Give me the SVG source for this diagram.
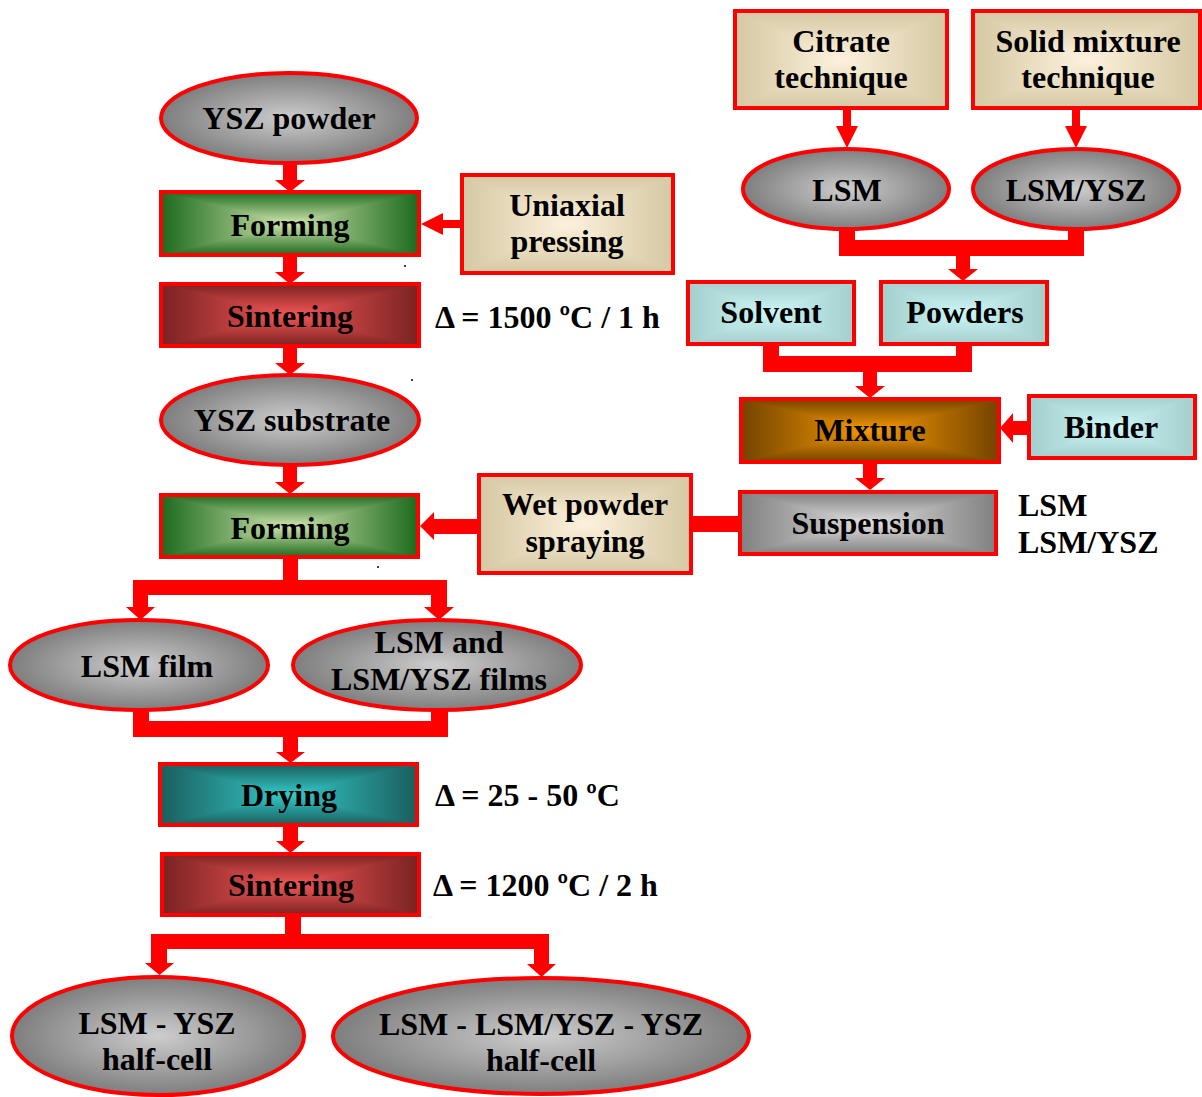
<svg xmlns="http://www.w3.org/2000/svg" xmlns:xlink="http://www.w3.org/1999/xlink" width="1202" height="1097" viewBox="0 0 1202 1097">
<style>
.t{font-family:"Liberation Serif","Times New Roman",serif;font-weight:bold;font-size:32px;fill:#000;text-anchor:middle}
.l{font-family:"Liberation Serif","Times New Roman",serif;font-weight:bold;font-size:32px;fill:#000}
.box{fill:none;stroke:#ff0000;stroke-width:4}
.ell{fill:url(#gray-r);stroke:#ff0000;stroke-width:4}
.con{fill:#ff0000}
</style>
<defs>
<polygon id="tb" points="0,0 1,0 .5,.5 1,1 0,1 .5,.5"/>
<rect id="sq" width="1" height="1"/>
<radialGradient id="gray-r" cx=".5" cy=".5" r=".5"><stop offset="0" stop-color="#cdcdcd"/><stop offset="1" stop-color="#7e7e7e"/></radialGradient>
<linearGradient id="h-green"><stop offset="0" stop-color="#1d6a1d"/><stop offset=".5" stop-color="#cfe4ae"/><stop offset="1" stop-color="#1d6a1d"/></linearGradient>
<linearGradient id="v-green" xlink:href="#h-green" x2="0" y2="1"/>
<linearGradient id="h-red"><stop offset="0" stop-color="#7a2222"/><stop offset=".5" stop-color="#f35656"/><stop offset="1" stop-color="#7a2222"/></linearGradient>
<linearGradient id="v-red" xlink:href="#h-red" x2="0" y2="1"/>
<linearGradient id="h-tan"><stop offset="0" stop-color="#d5c8a3"/><stop offset=".5" stop-color="#fdf1dd"/><stop offset="1" stop-color="#d5c8a3"/></linearGradient>
<linearGradient id="v-tan" xlink:href="#h-tan" x2="0" y2="1"/>
<linearGradient id="h-cyan"><stop offset="0" stop-color="#a2cecc"/><stop offset=".5" stop-color="#cdf7f7"/><stop offset="1" stop-color="#a2cecc"/></linearGradient>
<linearGradient id="v-cyan" xlink:href="#h-cyan" x2="0" y2="1"/>
<linearGradient id="h-orange"><stop offset="0" stop-color="#734300"/><stop offset=".5" stop-color="#f89a00"/><stop offset="1" stop-color="#734300"/></linearGradient>
<linearGradient id="v-orange" xlink:href="#h-orange" x2="0" y2="1"/>
<linearGradient id="h-gray"><stop offset="0" stop-color="#808080"/><stop offset=".5" stop-color="#dedede"/><stop offset="1" stop-color="#808080"/></linearGradient>
<linearGradient id="v-gray" xlink:href="#h-gray" x2="0" y2="1"/>
<linearGradient id="h-teal"><stop offset="0" stop-color="#1a5e5c"/><stop offset=".5" stop-color="#34caca"/><stop offset="1" stop-color="#1a5e5c"/></linearGradient>
<linearGradient id="v-teal" xlink:href="#h-teal" x2="0" y2="1"/>
</defs>

<g id="connectors">
<path class="con" d="M283,160 H297 V180 H305 L290,192 L275,180 H283 Z"/>
<path class="con" d="M283,254 H297 V272 H305 L290,284 L275,272 H283 Z"/>
<path class="con" d="M283,345 H297 V363 H305 L290,375 L275,363 H283 Z"/>
<path class="con" d="M283,462 H297 V482 H305 L290,494 L275,482 H283 Z"/>
<path class="con" d="M462,220 V228 H443 V235 L421,224 L443,213 V220 Z"/>
<path class="con" d="M843,108 H851 V126 H858 L847,148 L836,126 H843 Z"/>
<path class="con" d="M1072,108 H1080 V126 H1087 L1076,148 L1065,126 H1072 Z"/>
<path class="con" d="M839,226 H855 V240 H1068 V226 H1084 V256 H970 V269 H978 L963,281 L948,269 H956 V256 H839 Z"/>
<path class="con" d="M763,343 H779 V356 H956 V343 H972 V372 H877 V386 H885 L870,398 L855,386 H863 V372 H763 Z"/>
<path class="con" d="M1029,421 V435 H1013 V443 L1000,428 L1013,413 V421 Z"/>
<path class="con" d="M863,461 H877 V478 H885 L870,490 L855,478 H863 Z"/>
<rect class="con" x="690" y="516" width="50" height="16"/>
<path class="con" d="M480,519 V534 H434 V540 L420,526 L434,512 V519 Z"/>
<path class="con" d="M283,556 H298 V580 H447 V607 H454 L439,620 L424,607 H431 V595 H148 V607 H155 L140.5,620 L126,607 H133 V580 H283 Z"/>
<path class="con" d="M133,706 H149 V721 H431 V706 H448 V737 H298 V752 H305 L290.5,763 L276,752 H283 V737 H133 Z"/>
<path class="con" d="M283,825 H298 V841 H305 L290.5,853 L276,841 H283 Z"/>
<path class="con" d="M285,915 H301 V934 H549 V964 H556 L541.5,977 L527,964 H534 V949 H167 V963 H174 L159.5,975 L145,963 H151 V934 H285 Z"/>
</g>

<g id="ysz-powder"><ellipse class="ell" cx="289" cy="118" rx="128" ry="45"/><text class="t" x="289" y="129">YSZ powder</text></g>

<g id="forming1"><g transform="translate(161,192) scale(258,63)"><use xlink:href="#sq" fill="url(#h-green)"/><use xlink:href="#tb" fill="url(#v-green)"/></g><rect class="box" x="161" y="192" width="258" height="63"/><text class="t" x="290" y="236">Forming</text></g>

<g id="uniaxial"><g transform="translate(462,175) scale(211,98)"><use xlink:href="#sq" fill="url(#h-tan)"/><use xlink:href="#tb" fill="url(#v-tan)"/></g><rect class="box" x="462" y="175" width="211" height="98"/><text class="t" x="567" y="216">Uniaxial</text><text class="t" x="567" y="252">pressing</text></g>

<g id="sintering1"><g transform="translate(161,284) scale(258,62)"><use xlink:href="#sq" fill="url(#h-red)"/><use xlink:href="#tb" fill="url(#v-red)"/></g><rect class="box" x="161" y="284" width="258" height="62"/><text class="t" x="290" y="327">Sintering</text></g>

<g id="cond1"><text class="l" x="435" y="328">Δ = 1500 ºC / 1 h</text></g>

<g id="ysz-substrate"><ellipse class="ell" cx="290" cy="420" rx="129" ry="45"/><text class="t" x="292" y="431">YSZ substrate</text></g>

<g id="forming2"><g transform="translate(161,495) scale(257,62)"><use xlink:href="#sq" fill="url(#h-green)"/><use xlink:href="#tb" fill="url(#v-green)"/></g><rect class="box" x="161" y="495" width="257" height="62"/><text class="t" x="290" y="539">Forming</text></g>

<g id="wet-powder"><g transform="translate(479,475) scale(212,98)"><use xlink:href="#sq" fill="url(#h-tan)"/><use xlink:href="#tb" fill="url(#v-tan)"/></g><rect class="box" x="479" y="475" width="212" height="98"/><text class="t" x="585" y="515">Wet powder</text><text class="t" x="585" y="552">spraying</text></g>

<g id="citrate"><g transform="translate(735,11) scale(212,97)"><use xlink:href="#sq" fill="url(#h-tan)"/><use xlink:href="#tb" fill="url(#v-tan)"/></g><rect class="box" x="735" y="11" width="212" height="97"/><text class="t" x="841" y="52">Citrate</text><text class="t" x="841" y="88">technique</text></g>

<g id="solid-mixture"><g transform="translate(973,11) scale(227,97)"><use xlink:href="#sq" fill="url(#h-tan)"/><use xlink:href="#tb" fill="url(#v-tan)"/></g><rect class="box" x="973" y="11" width="227" height="97"/><text class="t" x="1088" y="52">Solid mixture</text><text class="t" x="1088" y="88">technique</text></g>

<g id="lsm"><ellipse class="ell" cx="846" cy="189" rx="103" ry="40"/><text class="t" x="847" y="201">LSM</text></g>

<g id="lsm-ysz"><ellipse class="ell" cx="1076" cy="189" rx="103" ry="40"/><text class="t" x="1076" y="201">LSM/YSZ</text></g>

<g id="solvent"><g transform="translate(688,282) scale(166,62)"><use xlink:href="#sq" fill="url(#h-cyan)"/><use xlink:href="#tb" fill="url(#v-cyan)"/></g><rect class="box" x="688" y="282" width="166" height="62"/><text class="t" x="771" y="323">Solvent</text></g>

<g id="powders"><g transform="translate(881,282) scale(166,62)"><use xlink:href="#sq" fill="url(#h-cyan)"/><use xlink:href="#tb" fill="url(#v-cyan)"/></g><rect class="box" x="881" y="282" width="166" height="62"/><text class="t" x="965" y="323">Powders</text></g>

<g id="mixture"><g transform="translate(741,399) scale(258,63)"><use xlink:href="#sq" fill="url(#h-orange)"/><use xlink:href="#tb" fill="url(#v-orange)"/></g><rect class="box" x="741" y="399" width="258" height="63"/><text class="t" x="870" y="441">Mixture</text></g>

<g id="binder"><g transform="translate(1029,396) scale(166,62)"><use xlink:href="#sq" fill="url(#h-cyan)"/><use xlink:href="#tb" fill="url(#v-cyan)"/></g><rect class="box" x="1029" y="396" width="166" height="62"/><text class="t" x="1111" y="438">Binder</text></g>

<g id="suspension"><g transform="translate(740,492) scale(256,62)"><use xlink:href="#sq" fill="url(#h-gray)"/><use xlink:href="#tb" fill="url(#v-gray)"/></g><rect class="box" x="740" y="492" width="256" height="62"/><text class="t" x="868" y="534">Suspension</text></g>

<g id="suspension-label"><text class="l" x="1018" y="516">LSM</text><text class="l" x="1018" y="553">LSM/YSZ</text></g>

<g id="lsm-film"><ellipse class="ell" cx="139" cy="665" rx="129" ry="45"/><text class="t" x="147" y="677">LSM film</text></g>

<g id="lsm-films"><ellipse class="ell" cx="437" cy="665" rx="144" ry="45"/><text class="t" x="439" y="653">LSM and</text><text class="t" x="439" y="690">LSM/YSZ films</text></g>

<g id="drying"><g transform="translate(160,764) scale(257,61)"><use xlink:href="#sq" fill="url(#h-teal)"/><use xlink:href="#tb" fill="url(#v-teal)"/></g><rect class="box" x="160" y="764" width="257" height="61"/><text class="t" x="289" y="806">Drying</text></g>

<g id="cond2"><text class="l" x="435" y="806">Δ = 25 - 50 ºC</text></g>

<g id="sintering2"><g transform="translate(162,854) scale(257,61)"><use xlink:href="#sq" fill="url(#h-red)"/><use xlink:href="#tb" fill="url(#v-red)"/></g><rect class="box" x="162" y="854" width="257" height="61"/><text class="t" x="291" y="896">Sintering</text></g>

<g id="cond3"><text class="l" x="433" y="896">Δ = 1200 ºC / 2 h</text></g>

<g id="half-cell1"><ellipse class="ell" cx="158" cy="1036" rx="146" ry="59"/><text class="t" x="157" y="1034">LSM - YSZ</text><text class="t" x="157" y="1070">half-cell</text></g>

<g id="half-cell2"><ellipse class="ell" cx="541" cy="1036" rx="208" ry="58"/><text class="t" x="541" y="1035">LSM - LSM/YSZ - YSZ</text><text class="t" x="541" y="1071">half-cell</text></g>

<g id="specks" fill="#000"><circle cx="405" cy="266" r="1"/><circle cx="412" cy="380" r="1"/><circle cx="378" cy="567" r="1"/></g>
</svg>
